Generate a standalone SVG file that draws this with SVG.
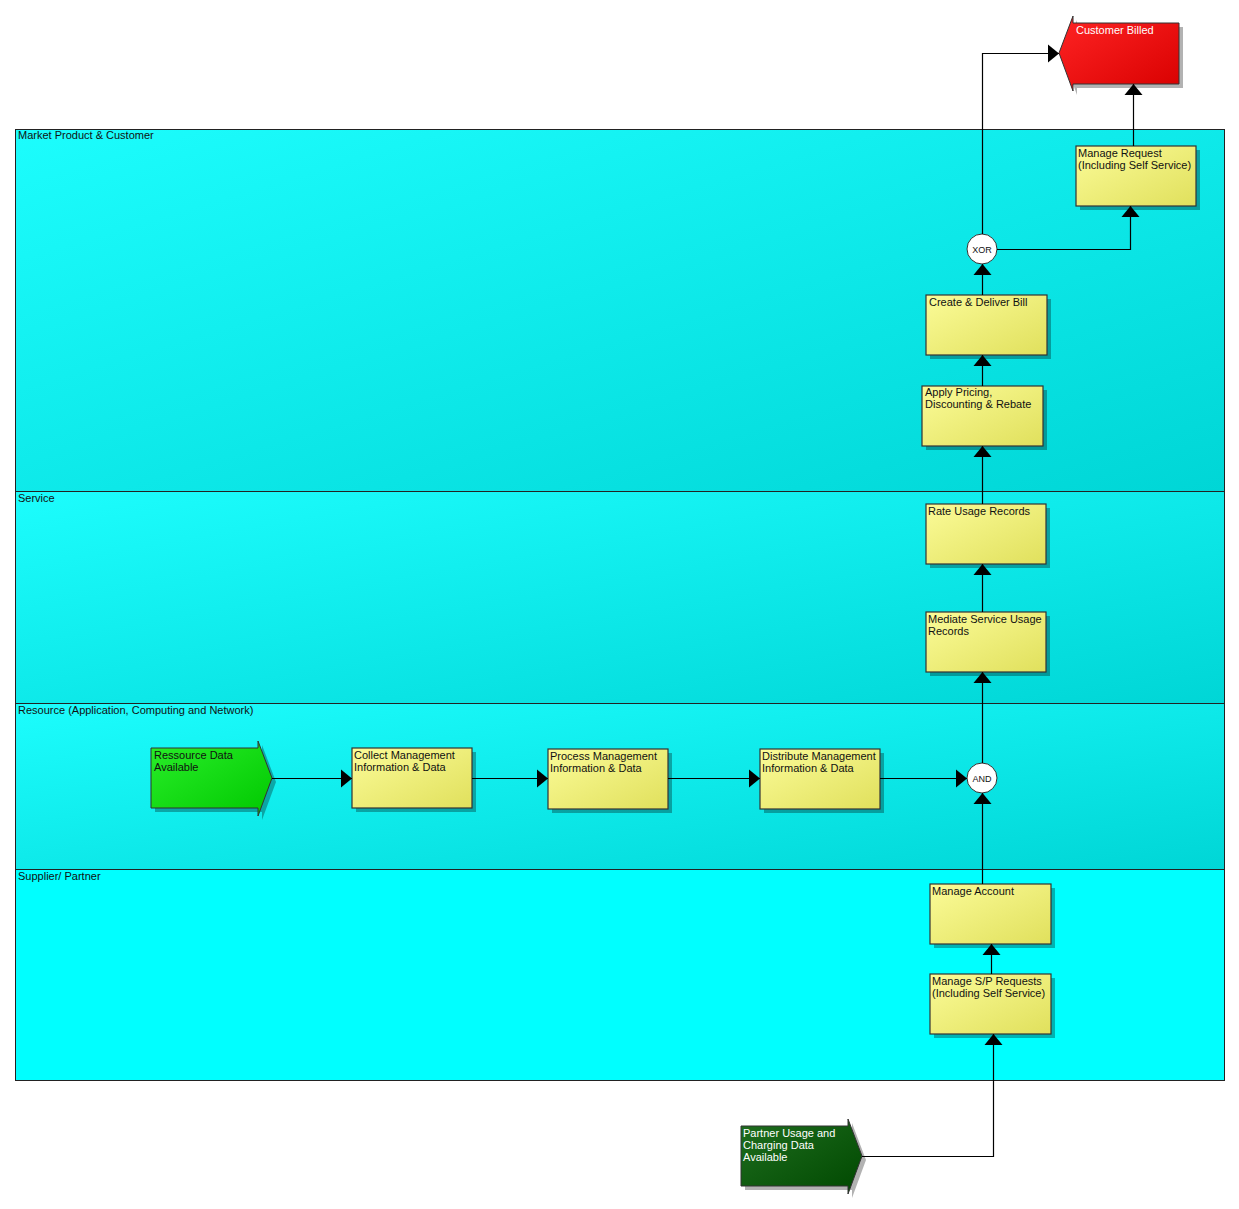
<svg xmlns="http://www.w3.org/2000/svg" width="1239" height="1209" viewBox="0 0 1239 1209">
<defs>
<linearGradient id="lane" x1="0" y1="0" x2="1" y2="1"><stop offset="0" stop-color="#1cfdfd"/><stop offset="1" stop-color="#00d6d6"/></linearGradient>
<linearGradient id="box" x1="0" y1="0" x2="1" y2="1"><stop offset="0" stop-color="#fbfb98"/><stop offset="1" stop-color="#e0e05c"/></linearGradient>
<linearGradient id="green" x1="0" y1="0" x2="1" y2="1"><stop offset="0" stop-color="#2aee2a"/><stop offset="1" stop-color="#00c800"/></linearGradient>
<linearGradient id="dgreen" x1="0" y1="0" x2="1" y2="1"><stop offset="0" stop-color="#1f6e1f"/><stop offset="1" stop-color="#004800"/></linearGradient>
<linearGradient id="red" x1="0" y1="0" x2="1" y2="1"><stop offset="0" stop-color="#ff2424"/><stop offset="1" stop-color="#d80000"/></linearGradient>
<marker id="ah" markerUnits="userSpaceOnUse" markerWidth="12" markerHeight="20" refX="11" refY="9" orient="auto" viewBox="0 0 12 18">
<path d="M0,0 L11,9 L0,18 z" fill="#000"/>
</marker>
</defs>
<style>
text{font-family:"Liberation Sans",Arial,sans-serif;font-size:11px;fill:#111}
.w{fill:#fff}
.lane{stroke:#222;stroke-width:1}
.box{fill:url(#box);stroke:#333;stroke-width:1.2}
.sh{fill:#000;opacity:0.3}
.gate{fill:#fff;stroke:#333;stroke-width:1}
.c{fill:none;stroke:#000;stroke-width:1.2;marker-end:url(#ah)}
</style>
<rect width="1239" height="1209" fill="#fff"/>
<g id="lanes">
<rect class="lane" x="15.5" y="129.5" width="1209" height="362" fill="url(#lane)"/>
<rect class="lane" x="15.5" y="491.5" width="1209" height="212" fill="url(#lane)"/>
<rect class="lane" x="15.5" y="703.5" width="1209" height="166" fill="url(#lane)"/>
<rect class="lane" x="15.5" y="869.5" width="1209" height="211" fill="#00ffff"/>
<text x="18" y="139">Market Product &amp; Customer</text>
<text x="18" y="502">Service</text>
<text x="18" y="714">Resource (Application, Computing and Network)</text>
<text x="18" y="880">Supplier/ Partner</text>
</g>
<g id="customer-billed">
<path class="sh" d="M1077,27 L1183,27 L1183,88 L1077,88 L1077,95 L1063,57 L1077,20 z"/>
<path d="M1073,23 L1179,23 L1179,84 L1073,84 L1073,91 L1059,53 L1073,16 z" fill="url(#red)" stroke="#333" stroke-width="1"/>
<text class="w" x="1076" y="34">Customer Billed</text>
</g>
<g id="manage-request">
<rect class="sh" x="1080" y="150" width="120" height="60"/>
<rect class="box" x="1076" y="146" width="120" height="60"/>
<text x="1078" y="157">Manage Request</text>
<text x="1078" y="169">(Including Self Service)</text>
</g>
<g id="xor">
<circle class="gate" cx="982" cy="249" r="15"/>
<text x="982" y="253" text-anchor="middle" style="font-size:9px">XOR</text>
</g>
<g id="create-deliver-bill">
<rect class="sh" x="930" y="299" width="121" height="60"/>
<rect class="box" x="926" y="295" width="121" height="60"/>
<text x="929" y="306">Create &amp; Deliver Bill</text>
</g>
<g id="apply-pricing">
<rect class="sh" x="926" y="390" width="121" height="60"/>
<rect class="box" x="922" y="386" width="121" height="60"/>
<text x="925" y="396">Apply Pricing,</text>
<text x="925" y="408">Discounting &amp; Rebate</text>
</g>
<g id="rate-usage">
<rect class="sh" x="930" y="508" width="120" height="60"/>
<rect class="box" x="926" y="504" width="120" height="60"/>
<text x="928" y="515">Rate Usage Records</text>
</g>
<g id="mediate-usage">
<rect class="sh" x="930" y="616" width="120" height="60"/>
<rect class="box" x="926" y="612" width="120" height="60"/>
<text x="928" y="623">Mediate Service Usage</text>
<text x="928" y="635">Records</text>
</g>
<g id="ressource-data">
<path class="sh" d="M155,752 L262,752 L262,745 L276,782 L262,820 L262,812 L155,812 z"/>
<path d="M151,748 L258,748 L258,741 L272,778 L258,816 L258,808 L151,808 z" fill="url(#green)" stroke="#333" stroke-width="1"/>
<text x="154" y="759">Ressource Data</text>
<text x="154" y="771">Available</text>
</g>
<g id="collect">
<rect class="sh" x="356" y="752" width="120" height="60"/>
<rect class="box" x="352" y="748" width="120" height="60"/>
<text x="354" y="759">Collect Management</text>
<text x="354" y="771">Information &amp; Data</text>
</g>
<g id="process">
<rect class="sh" x="552" y="753" width="120" height="60"/>
<rect class="box" x="548" y="749" width="120" height="60"/>
<text x="550" y="760">Process Management</text>
<text x="550" y="772">Information &amp; Data</text>
</g>
<g id="distribute">
<rect class="sh" x="764" y="753" width="120" height="60"/>
<rect class="box" x="760" y="749" width="120" height="60"/>
<text x="762" y="760">Distribute Management</text>
<text x="762" y="772">Information &amp; Data</text>
</g>
<g id="and">
<circle class="gate" cx="982" cy="778" r="15"/>
<text x="982" y="782" text-anchor="middle" style="font-size:9px">AND</text>
</g>
<g id="manage-account">
<rect class="sh" x="934" y="888" width="121" height="60"/>
<rect class="box" x="930" y="884" width="121" height="60"/>
<text x="932" y="895">Manage Account</text>
</g>
<g id="manage-sp">
<rect class="sh" x="934" y="978" width="121" height="60"/>
<rect class="box" x="930" y="974" width="121" height="60"/>
<text x="932" y="985">Manage S/P Requests</text>
<text x="932" y="997">(Including Self Service)</text>
</g>
<g id="partner-data">
<path class="sh" d="M745,1130 L852,1130 L852,1123 L866,1160 L852,1198 L852,1190 L745,1190 z"/>
<path d="M741,1126 L848,1126 L848,1119 L862,1156 L848,1194 L848,1186 L741,1186 z" fill="url(#dgreen)" stroke="#333" stroke-width="1"/>
<text class="w" x="743" y="1137">Partner Usage and</text>
<text class="w" x="743" y="1149">Charging Data</text>
<text class="w" x="743" y="1161">Available</text>
</g>
<g id="connectors">
<path class="c" d="M982.5,234 L982.5,53.5 L1059,53.5"/>
<path class="c" d="M997,249.5 L1130.5,249.5 L1130.5,206"/>
<path class="c" d="M1133.5,146 L1133.5,84"/>
<path class="c" d="M982.5,295 L982.5,264"/>
<path class="c" d="M982.5,386 L982.5,355"/>
<path class="c" d="M982.5,504 L982.5,446"/>
<path class="c" d="M982.5,612 L982.5,564"/>
<path class="c" d="M982.5,763 L982.5,672"/>
<path class="c" d="M982.5,884 L982.5,793"/>
<path class="c" d="M991.5,974 L991.5,944"/>
<path class="c" d="M862,1156.5 L993.5,1156.5 L993.5,1034"/>
<path class="c" d="M272,778.5 L352,778.5"/>
<path class="c" d="M472,778.5 L548,778.5"/>
<path class="c" d="M668,778.5 L760,778.5"/>
<path class="c" d="M880,778.5 L967,778.5"/>
</g>
</svg>
